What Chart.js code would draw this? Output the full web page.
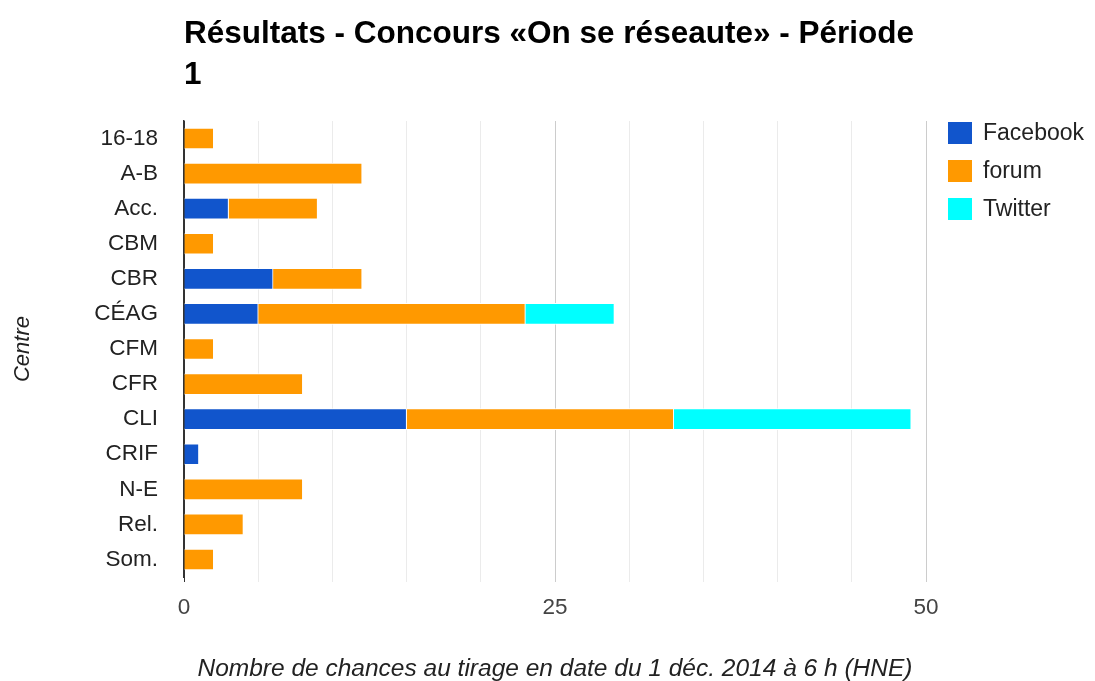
<!DOCTYPE html>
<html><head><meta charset="utf-8">
<script src="https://cdn.jsdelivr.net/npm/chart.js@4"></script>
<style>html,body{margin:0;padding:0;background:#fff}</style>
</head><body>
<canvas id="c" width="1095" height="681"></canvas>
<script>
const titleLines = ['Résultats - Concours «On se réseaute» - Période', '1'];
const categories = ['16-18','A-B','Acc.','CBM','CBR','CÉAG','CFM','CFR','CLI','CRIF','N-E','Rel.','Som.'];
const seriesNames = ['Facebook', 'forum', 'Twitter'];
const facebook = [null,null,3,null,6,5,null,null,15,1,null,null,null];
const forum    = [2,12,6,2,6,18,2,8,18,null,8,4,2];
const twitter  = [null,null,null,null,null,6,null,null,16,null,null,null,null];
const xTickLabels = [0, 25, 50];
const xAxisTitle = 'Nombre de chances au tirage en date du 1 déc. 2014 à 6 h (HNE)';
const yAxisTitle = 'Centre';

const FONT = "'Liberation Sans', Arial, sans-serif";
const colors = ['#1155cc', '#ff9900', '#00ffff'];

const titlePlugin = {
  id: 'customTitle',
  afterDraw(chart) {
    const ctx = chart.ctx, a = chart.chartArea;
    ctx.save();
    ctx.font = 'bold 31.5px ' + FONT;
    ctx.fillStyle = '#000';
    ctx.textBaseline = 'alphabetic';
    ctx.textAlign = 'left';
    ctx.fillText(titleLines[0], a.left, a.top - 78);
    ctx.fillText(titleLines[1], a.left, a.top - 37);
    ctx.restore();
  }
};
const legendPlugin = {
  id: 'customLegend',
  afterDraw(chart) {
    const ctx = chart.ctx, a = chart.chartArea;
    ctx.save();
    ctx.font = '23px ' + FONT;
    ctx.textBaseline = 'middle';
    ctx.textAlign = 'left';
    chart.data.datasets.forEach((ds, i) => {
      const cy = a.top + 12 + i * 38;
      ctx.fillStyle = ds.backgroundColor;
      ctx.fillRect(a.right + 22, cy - 11, 24, 22);
      ctx.fillStyle = '#222';
      ctx.fillText(ds.label, a.right + 57, cy + 1);
    });
    ctx.restore();
  }
};

const datasets = [facebook, forum, twitter].map((d, i) => ({
  label: seriesNames[i],
  data: d,
  backgroundColor: colors[i],
  borderColor: '#ffffff',
  borderWidth: 1,
  borderSkipped: 'start',
  barThickness: 21
}));

new Chart(document.getElementById('c'), {
  type: 'bar',
  data: { labels: categories, datasets },
  plugins: [titlePlugin, legendPlugin],
  options: {
    indexAxis: 'y',
    responsive: false,
    animation: false,
    devicePixelRatio: 1,
    layout: { padding: { top: 121, right: 169, left: 0, bottom: 0 } },
    plugins: { legend: { display: false }, tooltip: { enabled: false }, title: { display: false } },
    scales: {
      x: {
        stacked: true,
        min: 0, max: 50,
        afterFit(s) { s.height = 104; },
        border: { display: false },
        grid: {
          color: c => (c.tick && c.tick.value === 0) ? '#333333' : ((c.tick && c.tick.value % 25 === 0) ? '#cccccc' : '#ebebeb'),
          drawTicks: true, tickLength: 5,
          tickColor: c => (c.tick && c.tick.value === 0) ? '#333333' : ((c.tick && c.tick.value % 25 === 0) ? '#cccccc' : '#ebebeb')
        },
        ticks: {
          stepSize: 5,
          autoSkip: false,
          maxRotation: 0,
          padding: 12,
          color: '#444',
          font: { family: FONT, size: 22.5 },
          callback: v => xTickLabels.includes(v) ? String(v) : ''
        },
        title: {
          display: true, text: xAxisTitle, color: '#222',
          font: { family: FONT, size: 24.5, style: 'italic', lineHeight: 1 },
          padding: { top: 0, bottom: 0 }
        }
      },
      y: {
        stacked: true,
        afterFit(s) { s.width = 184; },
        grid: { display: false, drawTicks: false },
        border: { display: true, color: '#333333', width: 1.5 },
        ticks: { color: '#222', padding: 26, font: { family: FONT, size: 22.5 }, autoSkip: false },
        title: {
          display: true, text: yAxisTitle, color: '#222',
          font: { family: FONT, size: 22, style: 'italic' },
          padding: { top: 10, bottom: 0 }
        }
      }
    }
  }
});
</script>
</body></html>
